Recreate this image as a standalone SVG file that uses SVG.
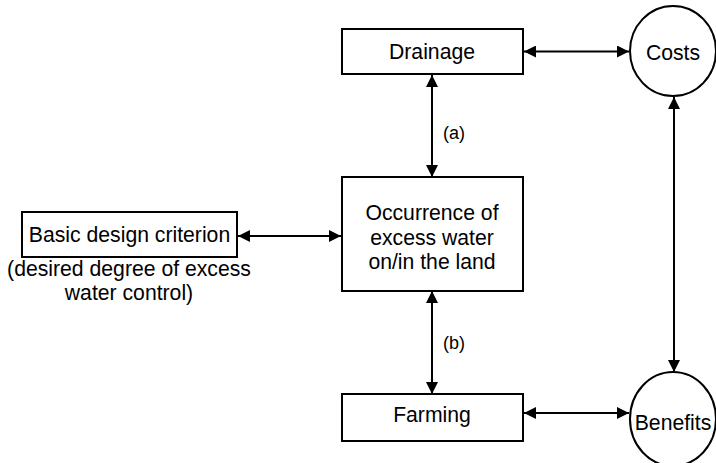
<svg xmlns="http://www.w3.org/2000/svg" width="716" height="463" viewBox="0 0 716 463">
<style>
.box{fill:#fff;stroke:#000;stroke-width:2}
.t{font-family:"Liberation Sans",Arial,Helvetica,sans-serif;font-size:21.2px;fill:#000;text-anchor:middle;dominant-baseline:central}
.s{font-size:18px}
.c{fill:none;stroke:#000;stroke-width:2;marker-start:url(#ah);marker-end:url(#ah)}
</style>
<defs>
<marker id="ah" viewBox="0 0 12 12" refX="12" refY="6" markerWidth="12" markerHeight="12" markerUnits="userSpaceOnUse" orient="auto-start-reverse">
<path d="M0,0 L12,6 L0,12 z" fill="#000"/>
</marker>
</defs>
<rect width="716" height="463" fill="#fff"/>
<g id="connectors">
<line class="c" x1="524" y1="51.5" x2="629" y2="51.5"/>
<line class="c" x1="238" y1="236" x2="341" y2="236"/>
<line class="c" x1="432" y1="75" x2="432" y2="177"/>
<line class="c" x1="432" y1="291" x2="432" y2="394"/>
<line class="c" x1="524" y1="413" x2="629" y2="413"/>
<line class="c" x1="674" y1="97" x2="674" y2="372"/>
<text class="t s" x="454" y="133">(a)</text>
<text class="t s" x="454" y="343">(b)</text>
</g>
<g id="drainage">
<rect class="box" x="342" y="29" width="181" height="45"/>
<text class="t" x="432" y="51.5">Drainage</text>
</g>
<g id="costs">
<ellipse class="box" cx="673" cy="51" rx="43" ry="45"/>
<text class="t" x="673" y="52">Costs</text>
</g>
<g id="occurrence">
<rect class="box" x="342" y="177" width="181" height="114"/>
<text class="t" x="432" y="212">Occurrence of</text>
<text class="t" x="432" y="237">excess water</text>
<text class="t" x="432" y="261">on/in the land</text>
</g>
<g id="basic">
<rect class="box" x="22" y="212" width="215" height="45"/>
<text class="t" x="129.5" y="234">Basic design criterion</text>
<text class="t" x="129" y="268">(desired degree of excess</text>
<text class="t" x="129" y="292">water control)</text>
</g>
<g id="farming">
<rect class="box" x="342" y="394" width="181" height="47"/>
<text class="t" x="432" y="414">Farming</text>
</g>
<g id="benefits">
<ellipse class="box" cx="673" cy="419" rx="43" ry="47"/>
<text class="t" x="673" y="422">Benefits</text>
</g>
</svg>
